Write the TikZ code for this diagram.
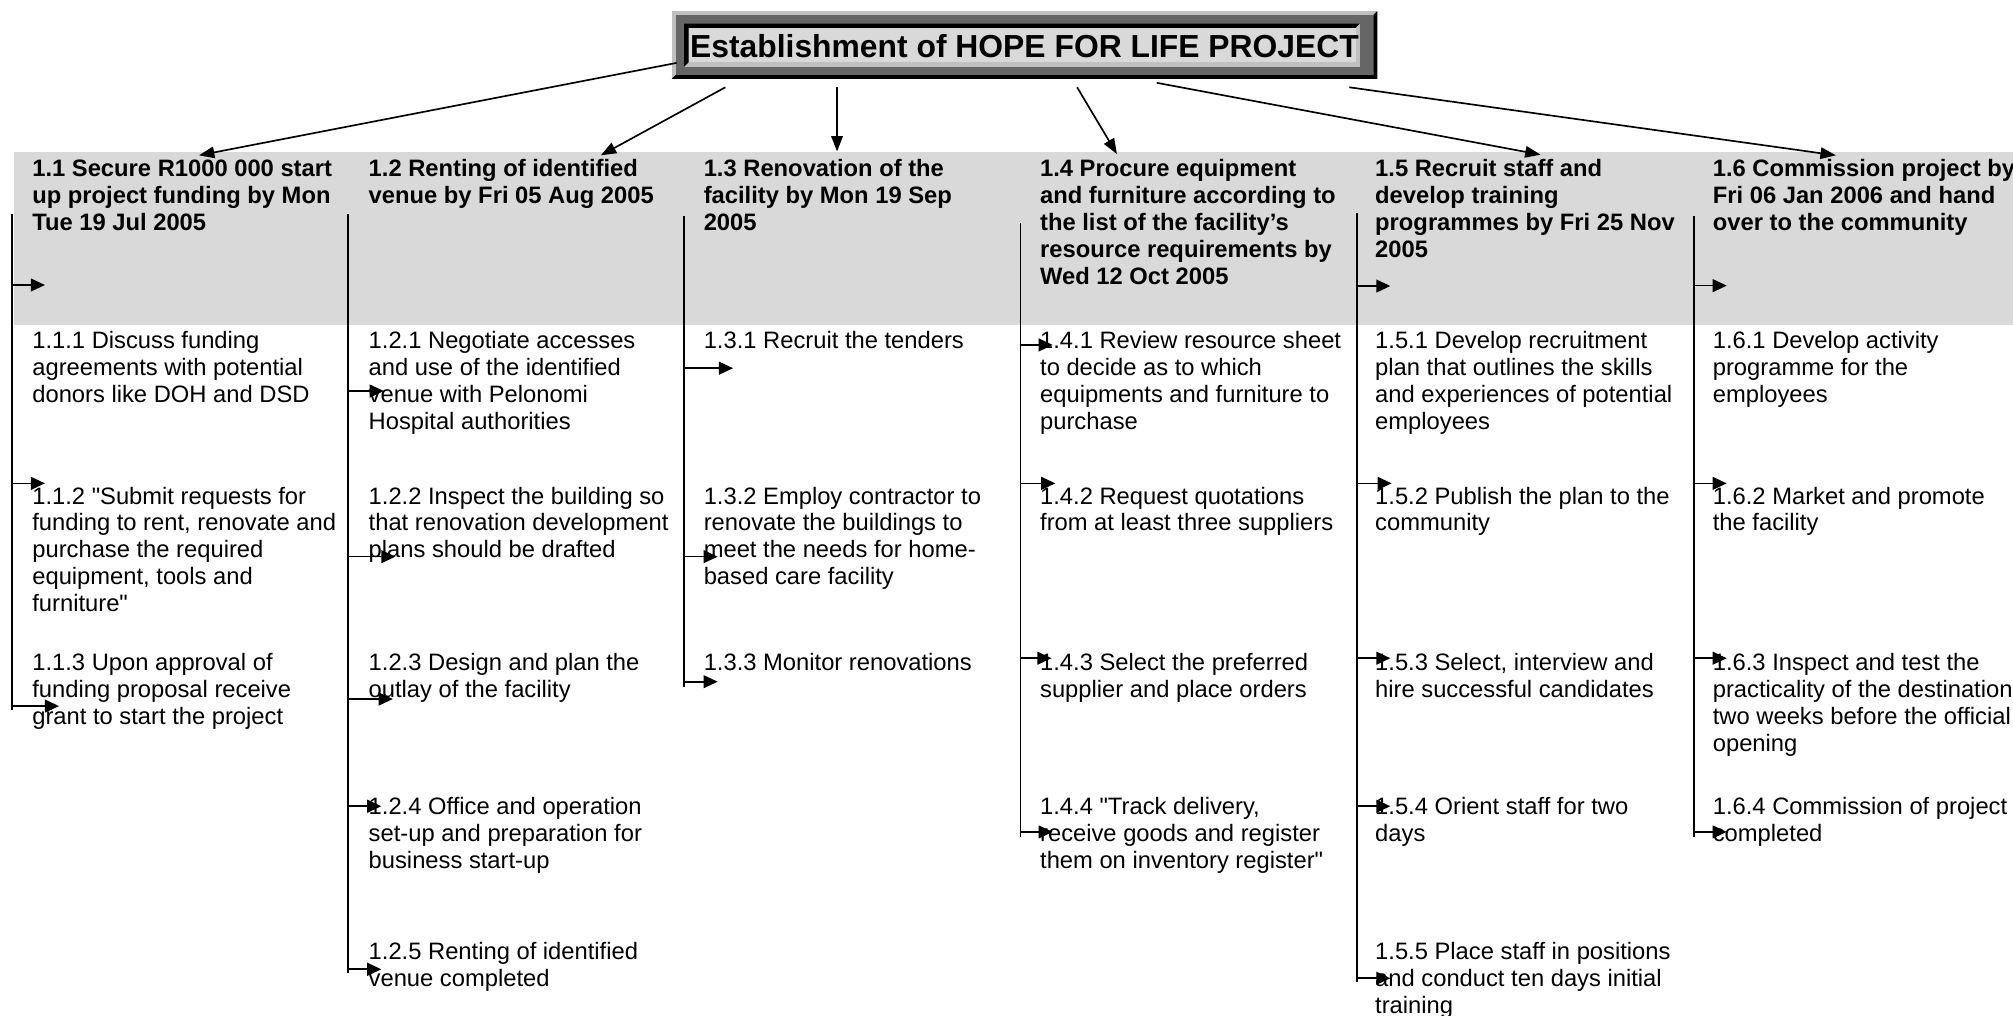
\documentclass[tikz,border=0pt]{standalone}
\usepackage{fontspec}
\setmainfont{Liberation Sans}
\usetikzlibrary{arrows.meta}
\definecolor{band}{RGB}{217,217,217}
\definecolor{bevel}{RGB}{192,192,192}
\definecolor{framegray}{RGB}{102,102,102}

\begin{document}
\begin{tikzpicture}[x=1pt,y=-1pt,
  wire/.style={line width=1.3pt,black},
  link/.style={wire,-{Triangle[length=12pt,width=9pt]}},
  stub/.style={wire,-{Triangle[length=11pt,width=10pt]}},
  % multi-line nodes are placed by the baseline of their last line
  headtext/.style={anchor=base west,inner sep=0pt,align=left,
    font=\fontsize{18.5}{21}\bfseries\selectfont},
  itemtext/.style={anchor=base west,inner sep=0pt,align=left,
    font=\fontsize{18.5}{21}\selectfont},
]
\useasboundingbox (0,0) rectangle (1568,791);

% grey band behind the task headings
\fill[band] (11,118.5) rectangle (1568,253.5);

% title box: raised outer frame, sunken inner panel
\fill[bevel] (523.2,8.6) rectangle (1072.8,61.5);
\fill[black] (523.2,61.5) -- (1072.8,61.5) -- (1072.8,8.6) -- (1069.8,11.6)
  -- (1069.8,58.5) -- (526.2,58.5) -- cycle;
\fill[framegray] (526.2,11.6) rectangle (1069.8,58.5);
\fill[bevel] (532.8,18.2) rectangle (1059.4,52);
\fill[black] (532.8,52) -- (532.8,18.2) -- (1059.4,18.2) -- (1055.9,21.7)
  -- (536.3,21.7) -- (536.3,48.5) -- cycle;
\fill[band] (536.3,21.7) rectangle (1055.9,48.5);
\node[inner sep=0pt,anchor=base,font=\fontsize{24.8}{28}\bfseries\selectfont]
  (title) at (798,45) {Establishment of HOPE FOR LIFE PROJECT};

% headings
\node[headtext] (h1) at (25,179.5) {1.1 Secure R1000 000 start\\up project funding by Mon\\Tue 19 Jul 2005};
\node[headtext] (h2) at (287,158.5) {1.2 Renting of identified\\venue by Fri 05 Aug 2005};
\node[headtext] (h3) at (548,179.5) {1.3 Renovation of the\\facility by Mon 19 Sep\\2005};
\node[headtext] (h4) at (810,221.5) {1.4 Procure equipment\\and furniture according to\\the list of the facility’s\\resource requirements by\\Wed 12 Oct 2005};
\node[headtext] (h5) at (1071,200.5) {1.5 Recruit staff and\\develop training\\programmes by Fri 25 Nov\\2005};
\node[headtext] (h6) at (1334,179.5) {1.6 Commission project by\\Fri 06 Jan 2006 and hand\\over to the community};

% work packages
\node[itemtext] (i11) at (25,313.6) {1.1.1 Discuss funding\\agreements with potential\\donors like DOH and DSD};
\node[itemtext] (i12) at (25,476.6) {1.1.2 \textquotedbl Submit requests for\\funding to rent, renovate and\\purchase the required\\equipment, tools and\\furniture\textquotedbl};
\node[itemtext] (i13) at (25,564.6) {1.1.3 Upon approval of\\funding proposal receive\\grant to start the project};

\node[itemtext] (i21) at (287,334.6) {1.2.1 Negotiate accesses\\and use of the identified\\venue with Pelonomi\\Hospital authorities};
\node[itemtext] (i22) at (287,434.6) {1.2.2 Inspect the building so\\that renovation development\\plans should be drafted};
\node[itemtext] (i23) at (287,543.6) {1.2.3 Design and plan the\\outlay of the facility};
\node[itemtext] (i24) at (287,676.6) {1.2.4 Office and operation\\set-up and preparation for\\business start-up};
\node[itemtext] (i25) at (287,768.6) {1.2.5 Renting of identified\\venue completed};

\node[itemtext] (i31) at (548,271.6) {1.3.1 Recruit the tenders};
\node[itemtext] (i32) at (548,455.6) {1.3.2 Employ contractor to\\renovate the buildings to\\meet the needs for home-\\based care facility};
\node[itemtext] (i33) at (548,522.6) {1.3.3 Monitor renovations};

\node[itemtext] (i41) at (810,334.6) {1.4.1 Review resource sheet\\to decide as to which\\equipments and furniture to\\purchase};
\node[itemtext] (i42) at (810,413.6) {1.4.2 Request quotations\\from at least three suppliers};
\node[itemtext] (i43) at (810,543.6) {1.4.3 Select the preferred\\supplier and place orders};
\node[itemtext] (i44) at (810,676.6) {1.4.4 \textquotedbl Track delivery,\\receive goods and register\\them on inventory register\textquotedbl};

\node[itemtext] (i51) at (1071,334.6) {1.5.1 Develop recruitment\\plan that outlines the skills\\and experiences of potential\\employees};
\node[itemtext] (i52) at (1071,413.6) {1.5.2 Publish the plan to the\\community};
\node[itemtext] (i53) at (1071,543.6) {1.5.3 Select, interview and\\hire successful candidates};
\node[itemtext] (i54) at (1071,655.6) {1.5.4 Orient staff for two\\days};
\node[itemtext] (i55) at (1071,789.6) {1.5.5 Place staff in positions\\and conduct ten days initial\\training};

\node[itemtext] (i61) at (1334,313.6) {1.6.1 Develop activity\\programme for the\\employees};
\node[itemtext] (i62) at (1334,413.6) {1.6.2 Market and promote\\the facility};
\node[itemtext] (i63) at (1334,585.6) {1.6.3 Inspect and test the\\practicality of the destination\\two weeks before the official\\opening};
\node[itemtext] (i64) at (1334,655.6) {1.6.4 Commission of project\\completed};

% connectors from the title to each heading
\coordinate (o1) at (527,49);    \coordinate (e1) at (155,121);
\coordinate (o2) at (565,68);    \coordinate (e2) at (468,121);
\coordinate (o3) at (652,68);    \coordinate (e3) at (652,118);
\coordinate (o4) at (839,68);    \coordinate (e4) at (870,120);
\coordinate (o5) at (901,64.5);  \coordinate (e5) at (1200,120.5);
\coordinate (o6) at (1051,68);   \coordinate (e6) at (1430,121);
\foreach \k in {1,...,6} \draw[link] (o\k) -- (e\k);

% column spines
\foreach \n/\x/\ya/\yb in {1/9.5/167/553, 2/271/167/758, 3/533/168/535,
    4/795/174/652, 5/1057/166/765, 6/1319.5/168/652} {
  \coordinate (top\n) at (\x,\ya);
  \coordinate (bot\n) at (\x,\yb);
  \draw[wire] (top\n) -- (bot\n);
}

% arrow stubs leading from each spine to its work packages
\foreach \n/\y/\t in {1/222/35, 1/376.5/35, 1/550/46,
    2/304.6/299, 2/433.6/308, 2/544.5/306, 2/628/297, 2/755/297,
    3/286.8/571, 3/433.6/559, 3/531/559,
    4/268.7/820, 4/376.5/822, 4/512.7/819, 4/648/820,
    5/222.8/1083, 5/376.5/1084, 5/512.7/1083, 5/628/1083, 5/762/1083,
    6/222.5/1345, 6/376.5/1345, 6/512.7/1345, 6/648/1345} {
  \draw[stub] (top\n |- 0,\y) -- (\t,\y);
}
\end{tikzpicture}
\end{document}
